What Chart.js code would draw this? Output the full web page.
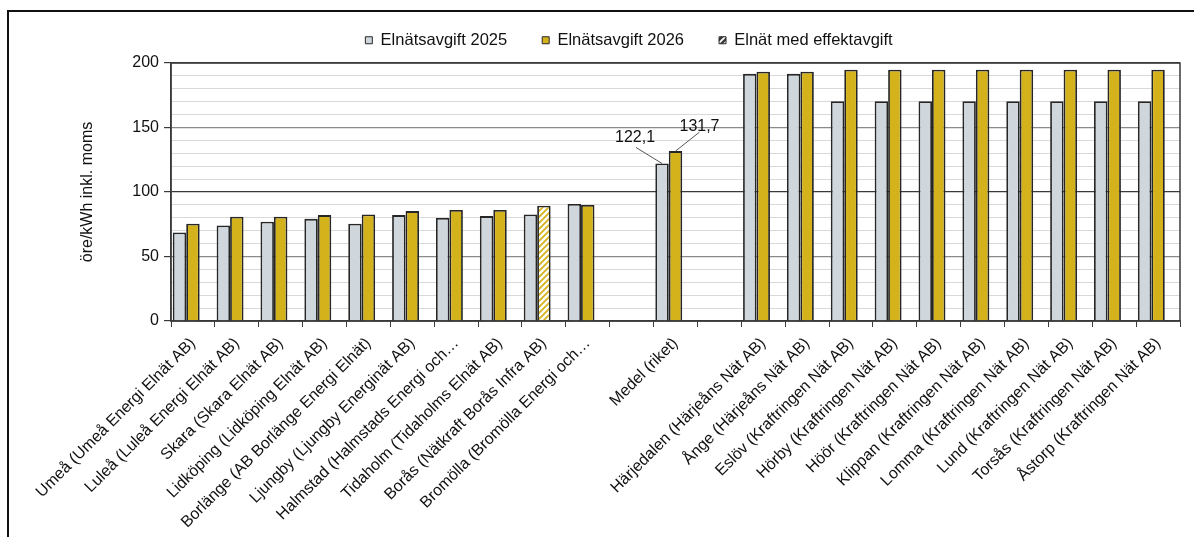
<!DOCTYPE html>
<html lang="sv">
<head>
<meta charset="utf-8">
<script src="https://cdn.jsdelivr.net/npm/chart.js@4"></script>
<style>
  html, body { margin: 0; padding: 0; background: #fff; overflow: hidden; }
  .frame { position: absolute; left: 7px; top: 10px; width: 1200px; height: 540px;
           border-left: 2px solid #111; border-top: 2px solid #111; }
  #wrap { position: absolute; left: 0; top: 0; width: 1194px; height: 537px; }
</style>
</head>
<body>
<div class="frame"></div>
<div id="wrap"><canvas id="chart"></canvas></div>
<script>
// -- DATA ----------------------------------------------
const categories = [
  "Umeå (Umeå Energi Elnät AB)",
  "Luleå (Luleå Energi Elnät AB)",
  "Skara (Skara Elnät AB)",
  "Lidköping (Lidköping Elnät AB)",
  "Borlänge (AB Borlänge Energi Elnät)",
  "Ljungby (Ljungby Energinät AB)",
  "Halmstad (Halmstads Energi och…",
  "Tidaholm (Tidaholms Elnät AB)",
  "Borås (Nätkraft Borås Infra AB)",
  "Bromölla (Bromölla Energi och…",
  "",
  "Medel (riket)",
  "",
  "Härjedalen (Härjeåns Nät AB)",
  "Ånge (Härjeåns Nät AB)",
  "Eslöv (Kraftringen Nät AB)",
  "Hörby (Kraftringen Nät AB)",
  "Höör (Kraftringen Nät AB)",
  "Klippan (Kraftringen Nät AB)",
  "Lomma (Kraftringen Nät AB)",
  "Lund (Kraftringen Nät AB)",
  "Torsås (Kraftringen Nät AB)",
  "Åstorp (Kraftringen Nät AB)"
];

const fee2025 = [68.6, 74.1, 76.9, 79.2, 75.4, 82.1, 79.8, 81.3, 82.6, 90.7, null, 122.1, null,
  191.6, 191.6, 170.4, 170.4, 170.4, 170.4, 170.4, 170.4, 170.4, 170.4];
const fee2026 = [75.4, 80.8, 80.8, 82.1, 82.6, 85.2, 86.0, 86.0, 89.4, 89.9, null, 131.7, null,
  193.2, 193.2, 194.8, 194.8, 194.8, 194.8, 194.8, 194.8, 194.8, 194.8];
const effekt = [0.8, null, null, null, null, null, null, null, null, null, null, null, null,
  null, null, null, null, null, null, null, null, null, null];

const seriesNames = ["Elnätsavgift 2025", "Elnätsavgift 2026", "Elnät med effektavgift"];
const effektCategory = "Borås (Nätkraft Borås Infra AB)";
const labelCategory = "Medel (riket)";
const majorTicks = [0, 50, 100, 150, 200];

// -- STYLE ---------------------------------------------
const FONT = "'Liberation Sans', Arial, sans-serif";
const GREY = "#cfd7dc";
const GOLD = "#d4b21c";
const EDGE = "#262626";

function hatch(bg, fg) {
  const c = document.createElement("canvas");
  c.width = 6;
  c.height = 6;
  const g = c.getContext("2d");
  g.fillStyle = bg;
  g.fillRect(0, 0, 6, 6);
  g.strokeStyle = fg;
  g.lineWidth = 1.8;
  g.beginPath();
  g.moveTo(0, 6); g.lineTo(6, 0);
  g.moveTo(-1, 1); g.lineTo(1, -1);
  g.moveTo(5, 7); g.lineTo(7, 5);
  g.stroke();
  return g.createPattern(c, "repeat");
}

const goldHatch = hatch("#ffffff", GOLD);
const darkHatch = hatch("#3a3a3a", "#ffffff");
const effektIdx = categories.indexOf(effektCategory);
const medelIdx = categories.indexOf(labelCategory);

const gold2026 = categories.map((c, i) => (i === effektIdx ? goldHatch : GOLD));

// -- PLUGINS -------------------------------------------
// legend keeps wide item spacing but a fixed band height
const legendBand = {
  id: "legendBand",
  beforeLayout(chart) {
    const lg = chart.legend;
    if (lg && !lg._banded) {
      const fit = lg.fit.bind(lg);
      lg.fit = () => { fit(); lg.height = 66; };
      lg._banded = true;
    }
  }
};

const plotFrame = {
  id: "plotFrame",
  afterDatasetsDraw(chart) {
    const { ctx, chartArea: a } = chart;
    ctx.save();
    ctx.strokeStyle = "#3a3a3a";
    ctx.lineWidth = 1.5;
    ctx.strokeRect(a.left, a.top, a.right - a.left, a.bottom - a.top);
    ctx.restore();
  }
};

const medelLabels = {
  id: "medelLabels",
  afterDatasetsDraw(chart) {
    const { ctx } = chart;
    const offsets = [
      { dx: -27, dy: -24, lx: -26, ly: -16 },
      { dx: 24, dy: -23, lx: 24, ly: -19 }
    ];
    ctx.save();
    ctx.font = "16px " + FONT;
    ctx.fillStyle = "#111";
    ctx.textAlign = "center";
    ctx.textBaseline = "middle";
    ctx.strokeStyle = "#555";
    ctx.lineWidth = 1;
    [0, 1].forEach((di) => {
      const bar = chart.getDatasetMeta(di).data[medelIdx];
      const v = chart.data.datasets[di].data[medelIdx];
      const o = offsets[di];
      ctx.beginPath();
      ctx.moveTo(bar.x + o.lx, bar.y + o.ly);
      ctx.lineTo(bar.x, bar.y);
      ctx.stroke();
      ctx.fillText(v.toFixed(1).replace(".", ","), bar.x + o.dx, bar.y + o.dy - 2);
    });
    ctx.restore();
  }
};

// -- RENDER --------------------------------------------
new Chart(document.getElementById("chart"), {
  type: "bar",
  data: {
    labels: categories,
    datasets: [
      { label: seriesNames[0], data: fee2025, backgroundColor: GREY, borderColor: EDGE, borderWidth: 1.8 },
      { label: seriesNames[1], data: fee2026, backgroundColor: gold2026, borderColor: EDGE, borderWidth: 1.8 },
      { label: seriesNames[2], data: effekt, backgroundColor: "#111", borderColor: EDGE, borderWidth: 1.8 }
    ]
  },
  options: {
    responsive: true,
    maintainAspectRatio: false,
    animation: false,
    devicePixelRatio: 1,
    categoryPercentage: 0.92,
    barPercentage: 1.0,
    layout: { padding: { left: 78, right: 14, top: -3, bottom: 0 } },
    plugins: {
      tooltip: { enabled: false },
      legend: {
        position: "top",
        labels: {
          font: { family: FONT, size: 16.5 },
          color: "#111",
          boxWidth: 7,
          boxHeight: 7,
          padding: 35,
          generateLabels(chart) {
            const items = Chart.defaults.plugins.legend.labels.generateLabels(chart);
            items[2].fillStyle = darkHatch;
            items[1].fillStyle = GOLD;
            items.forEach((it) => { it.lineWidth = 1; });
            return items;
          }
        }
      }
    },
    scales: {
      x: {
        afterFit(scale) { scale.height = 216; },
        grid: { offset: true, drawOnChartArea: false, tickLength: 6, color: "#3a3a3a", lineWidth: 1 },
        border: { color: "#3a3a3a", width: 1.5 },
        ticks: {
          autoSkip: false,
          minRotation: 45,
          maxRotation: 45,
          padding: 7,
          color: "#111",
          font: { family: FONT, size: 16 }
        }
      },
      y: {
        min: 0,
        max: 200,
        afterFit(scale) { scale.width = 93; },
        title: {
          display: true,
          text: "öre/kWh inkl. moms",
          color: "#111",
          font: { family: FONT, size: 16 },
          padding: { top: 0, bottom: 0 }
        },
        border: { color: "#3a3a3a", width: 1.5 },
        grid: {
          color: (c) => (c.tick.value % 100 === 0 ? "#3a3a3a" : c.tick.value % 50 === 0 ? "#8a8a8a" : "#d9d9d9"),
          tickColor: (c) => (majorTicks.includes(c.tick.value) ? "#3a3a3a" : "rgba(0,0,0,0)"),
          tickLength: 7,
          lineWidth: (c) => (c.tick.value % 50 === 0 ? 1.2 : 1)
        },
        ticks: {
          stepSize: 10,
          autoSkip: false,
          padding: 5,
          color: "#111",
          font: { family: FONT, size: 16 },
          callback: (v) => (majorTicks.includes(v) ? String(v) : "")
        }
      }
    }
  },
  plugins: [legendBand, plotFrame, medelLabels]
});
</script>
</body>
</html>
